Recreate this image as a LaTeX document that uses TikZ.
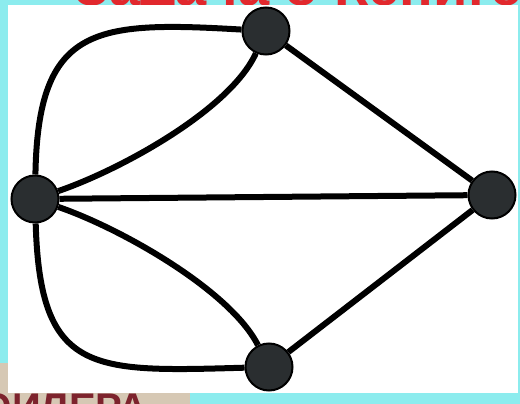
\documentclass[tikz,border=0pt]{standalone}
\usepackage{fontspec}
\setmainfont{Liberation Sans}
\definecolor{cyanbg}{RGB}{140,236,238}
\definecolor{titlered}{RGB}{225,40,45}
\definecolor{eulerred}{RGB}{125,35,45}
\definecolor{beige}{RGB}{214,200,180}
\definecolor{vertfill}{RGB}{42,46,48}
\begin{document}
\begin{tikzpicture}[x=1pt,y=-1pt,
  vert/.style={circle,draw=black,line width=2pt,fill=vertfill,minimum size=47pt,inner sep=0pt},
  bridge/.style={line width=6pt,black},
  titletext/.style={anchor=base west,text=titlered,inner sep=0pt,font=\bfseries\fontsize{56}{60}\selectfont},
  eulertext/.style={anchor=base east,text=eulerred,inner sep=0pt,font=\bfseries\fontsize{40}{44}\selectfont}]
\useasboundingbox (0,0) rectangle (520,404);
\clip (0,0) rectangle (520,404);
% background
\fill[cyanbg] (0,0) rectangle (520,404);
\fill[beige] (0,363) rectangle (190,404);
\begin{scope}
  \clip (0,0) rectangle (520,5);
  \node[titletext] (title) at (74,6) {Задача о Кенигсбергских мостах};
\end{scope}
\begin{scope}
  \clip (0,393) rectangle (190,404);
  \node[eulertext] (euler) at (148,421) {ЭЙЛЕРА};
\end{scope}
% white panel
\fill[white] (8,5) rectangle (518,393);
% vertices
\node[vert] (L) at (35,199) {};
\node[vert] (T) at (266,31) {};
\node[vert] (B) at (269,367) {};
\node[vert] (R) at (492,195) {};
% edges
\draw[bridge] (L) -- (R);
\draw[bridge] (T) -- (R);
\draw[bridge] (B) -- (R);
\draw[bridge] (L) .. controls (38,25) and (95,21) .. (T);
\draw[bridge] (L) .. controls (120,170) and (230,110) .. (T);
\draw[bridge] (L) .. controls (40,375) and (92,372) .. (B);
\draw[bridge] (L) .. controls (120,228) and (230,290) .. (B);
\end{tikzpicture}
\end{document}
